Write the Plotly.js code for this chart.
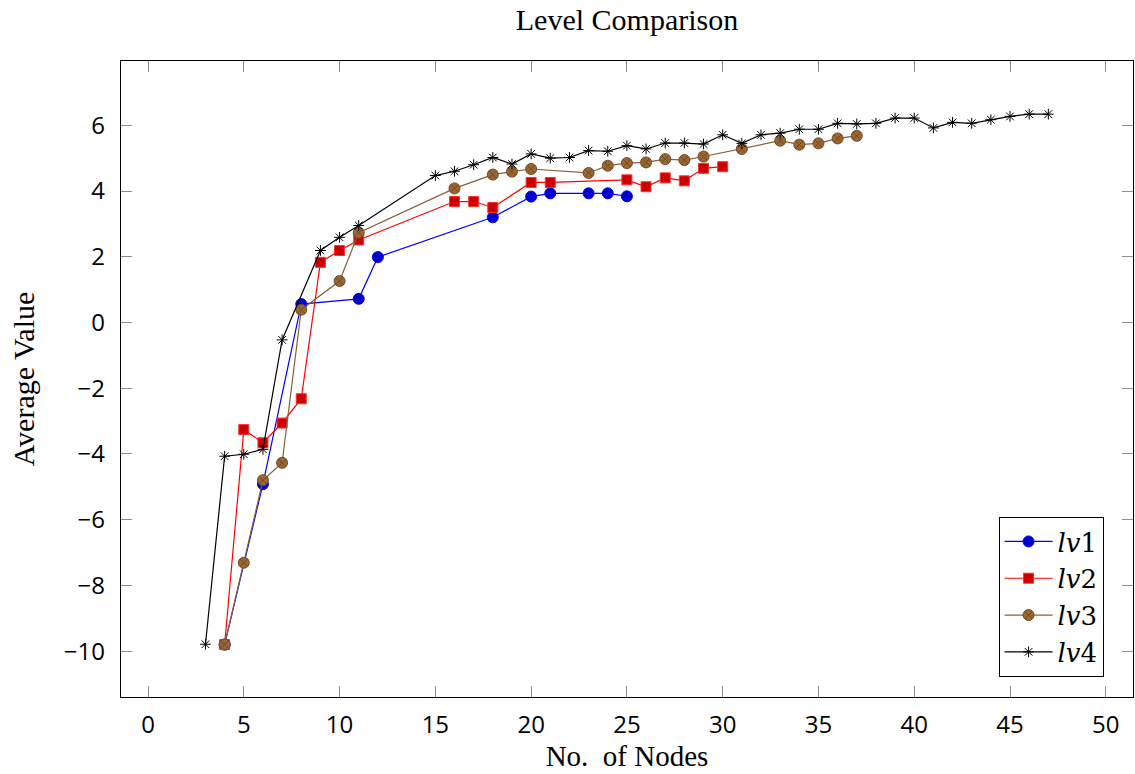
<!DOCTYPE html>
<html>
<head>
<meta charset="utf-8">
<script src="https://cdn.plot.ly/plotly-3.0.1.min.js"></script>
<style>html,body{margin:0;padding:0;background:#fff;}#chart{width:1135px;height:774px;}</style>
</head>
<body>
<div id="chart"></div>
<script>
const lv1X = [4, 6, 8, 11, 12, 18, 20, 21, 23, 24, 25];
const lv1Y = [-9.8, -4.92, 0.56, 0.72, 1.99, 3.2, 3.83, 3.93, 3.93, 3.93, 3.84];

const lv2X = [4, 5, 6, 7, 8, 9, 10, 11, 16, 17, 18, 20, 21, 25, 26, 27, 28, 29, 30];
const lv2Y = [-9.8, -3.26, -3.66, -3.06, -2.32, 1.83, 2.19, 2.51, 3.68, 3.68, 3.5, 4.26, 4.26, 4.34, 4.13, 4.4, 4.31, 4.69, 4.74];

const lv3X = [4, 5, 6, 7, 8, 10, 11, 16, 18, 19, 20, 23, 24, 25, 26, 27, 28, 29, 31, 33, 34, 35, 36, 37];
const lv3Y = [-9.8, -7.31, -4.8, -4.27, 0.39, 1.26, 2.73, 4.08, 4.5, 4.59, 4.67, 4.55, 4.77, 4.85, 4.87, 4.97, 4.94, 5.05, 5.28, 5.53, 5.41, 5.45, 5.6, 5.68];

const lv4X = [3, 4, 5, 6, 7, 9, 10, 11, 15, 16, 17, 18, 19, 20, 21, 22, 23, 24, 25, 26, 27, 28, 29, 30, 31, 32, 33, 34, 35, 36, 37, 38, 39, 40, 41, 42, 43, 44, 45, 46, 47];
const lv4Y = [-9.79, -4.07, -4.01, -3.86, -0.53, 2.19, 2.59, 2.95, 4.47, 4.6, 4.8, 5.02, 4.82, 5.13, 5.0, 5.02, 5.23, 5.21, 5.38, 5.28, 5.46, 5.46, 5.43, 5.71, 5.45, 5.71, 5.76, 5.88, 5.88, 6.06, 6.04, 6.06, 6.22, 6.22, 5.92, 6.09, 6.06, 6.17, 6.27, 6.34, 6.34];

const seriesNames = ['<i>lv</i>1', '<i>lv</i>2', '<i>lv</i>3', '<i>lv</i>4'];
const xTicks = [0, 5, 10, 15, 20, 25, 30, 35, 40, 45, 50];
const yTicks = [-10, -8, -6, -4, -2, 0, 2, 4, 6];

const traces = [
  {x: lv1X, y: lv1Y, name: seriesNames[0], mode: 'lines+markers', type: 'scatter',
   line: {color: '#0000ff', width: 1.2},
   marker: {symbol: 'circle', size: 11, color: '#0000cc', line: {color: '#0000ff', width: 1}}},
  {x: lv2X, y: lv2Y, name: seriesNames[1], mode: 'lines+markers', type: 'scatter',
   line: {color: '#ff0000', width: 1.2},
   marker: {symbol: 'square', size: 10, color: '#cc0000', line: {color: '#ff3030', width: 1}}},
  {x: lv3X, y: lv3Y, name: seriesNames[2], mode: 'lines+markers', type: 'scatter',
   line: {color: '#8a5f35', width: 1.2},
   marker: {symbol: 'circle-x', size: 11, color: '#9a6632', line: {color: '#6e4a25', width: 1}}},
  {x: lv4X, y: lv4Y, name: seriesNames[3], mode: 'lines+markers', type: 'scatter',
   line: {color: '#000000', width: 1.2},
   marker: {symbol: 'asterisk-open', size: 9, color: '#000000', line: {color: '#000000', width: 1}}}
];

const serif = 'Liberation Serif, Times New Roman, serif';
const sans = 'Open Sans, Lato, sans-serif';

const layout = {
  width: 1135, height: 774,
  margin: {l: 121, r: 2, t: 61, b: 77, pad: 0},
  paper_bgcolor: '#ffffff', plot_bgcolor: '#ffffff',
  showlegend: true,
  title: {text: 'Level Comparison', font: {family: serif, size: 30, color: '#000'},
          x: 0.5, xanchor: 'center', xref: 'paper', y: 0.975, yref: 'container', yanchor: 'middle'},
  xaxis: {
    range: [-1.41, 51.42], tickvals: xTicks, ticktext: xTicks.map(String),
    showgrid: false, zeroline: false, showline: true, linecolor: '#000', linewidth: 1.3,
    mirror: 'ticks', ticks: 'inside', ticklen: 11, tickwidth: 1, tickcolor: '#8c8c8c',
    tickfont: {family: sans, size: 24, color: '#000'}, ticklabelstandoff: 6,
    title: {text: 'No.\u00a0 of Nodes', font: {family: serif, size: 29, color: '#000'}, standoff: 6}
  },
  yaxis: {
    range: [-11.396, 7.956], tickvals: yTicks, ticktext: yTicks.map(v => v < 0 ? '\u2212' + Math.abs(v) : String(v)),
    showgrid: false, zeroline: false, showline: true, linecolor: '#000', linewidth: 1.3,
    mirror: 'ticks', ticks: 'inside', ticklen: 11, tickwidth: 1, tickcolor: '#8c8c8c',
    tickfont: {family: sans, size: 24, color: '#000'}, ticklabelstandoff: 10,
    title: {text: 'Average Value', font: {family: serif, size: 30, color: '#000'}, standoff: 20}
  },
  legend: {
    x: 0.9709, xanchor: 'right', y: 0.0314, yanchor: 'bottom',
    bordercolor: '#000', borderwidth: 1, bgcolor: '#fff',
    font: {family: 'DejaVu Serif, serif', size: 26, color: '#000'},
    tracegroupgap: 0, itemwidth: 48
  }
};

Plotly.newPlot('chart', traces, layout, {displayModeBar: false, staticPlot: true});
</script>
</body>
</html>
